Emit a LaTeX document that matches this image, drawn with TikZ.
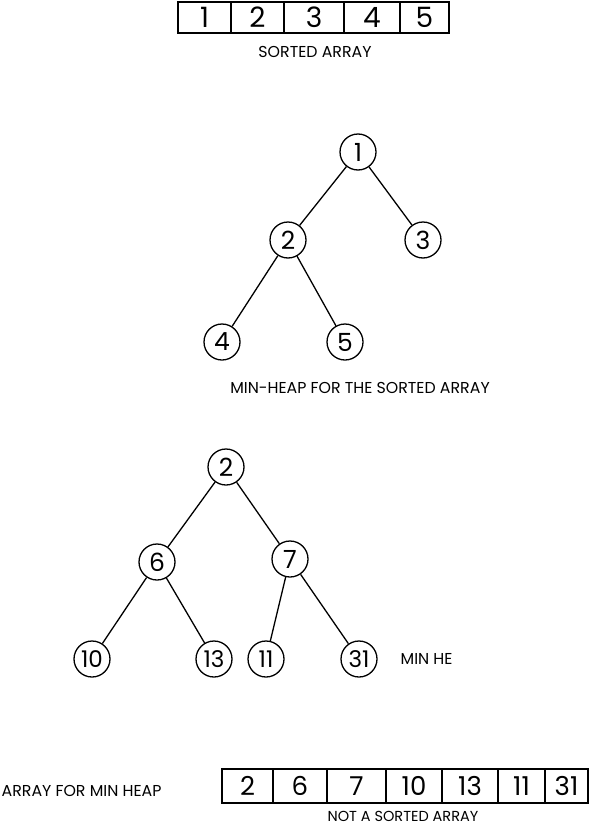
\documentclass[tikz,border=0pt]{standalone}
\usepackage{fontspec}
\setmainfont{Poppins}
\begin{document}
\begin{tikzpicture}[x=1pt,y=-1pt,
  line width=1.3pt,
  hnode/.style={circle,draw,line width=1.3pt,minimum size=36pt,inner sep=0pt,font=\fontsize{25}{25}\selectfont},
  leafnode/.style={hnode,font=\fontsize{23}{23}\selectfont},
  cellbox/.style={rectangle,draw,line width=1.3pt,inner sep=0pt,font=\fontsize{28}{28}\selectfont},
  lbl/.style={font=\fontsize{15.8}{16}\selectfont,inner sep=0pt}]
\useasboundingbox (0,0) rectangle (590,827);
% top sorted array
\foreach \a/\b/\v [count=\i] in {178/231/1,231/284/2,284/344/3,344/400/4,400/449/5}{
  \node[cellbox,minimum width={(\b-\a)*1pt},minimum height=31pt] (s\i) at ({(\a+\b)/2},17.5) {\v};
}
\node[lbl] (l1) at (315,52) {SORTED ARRAY};
% tree 1
\node[hnode] (a1) at (358,152) {1};
\node[hnode] (a2) at (288,240) {2};
\node[hnode] (a3) at (423,240) {3};
\node[hnode] (a4) at (222,342) {4};
\node[hnode] (a5) at (345,342) {5};
\draw (a1) -- (a2);
\draw (a1) -- (a3);
\draw (a2) -- (a4);
\draw (a2) -- (a5);
\node[lbl] (l2) at (360,388) {MIN-HEAP FOR THE SORTED ARRAY};
% tree 2
\node[hnode] (b1) at (226,467) {2};
\node[hnode] (b2) at (157,562) {6};
\node[hnode] (b3) at (290,559) {7};
\node[leafnode] (b4) at (92,659) {10};
\node[leafnode] (b5) at (214,659) {13};
\node[leafnode] (b6) at (266,659) {11};
\node[leafnode] (b7) at (359,659) {31};
\draw (b1) -- (b2);
\draw (b1) -- (b3);
\draw (b2) -- (b4);
\draw (b2) -- (b5);
\draw (b3) -- (b6);
\draw (b3) -- (b7);
\node[lbl,anchor=west] (l3) at (400,659) {MIN HE};
% bottom array
\foreach \a/\b/\v [count=\i] in {222/273/2,273/327/6,327/386/7,386/442/10,442/498/13,498/545/11,545/588/31}{
  \node[cellbox,minimum width={(\b-\a)*1pt},minimum height=34pt,font=\fontsize{26}{26}\selectfont] (c\i) at ({(\a+\b)/2},786) {\v};
}
\node[lbl,anchor=west] (l4) at (1,791) {ARRAY FOR MIN HEAP};
\node[lbl,font=\fontsize{14.5}{15}\selectfont] (l5) at (403,816.5) {NOT A SORTED ARRAY};
\end{tikzpicture}
\end{document}
